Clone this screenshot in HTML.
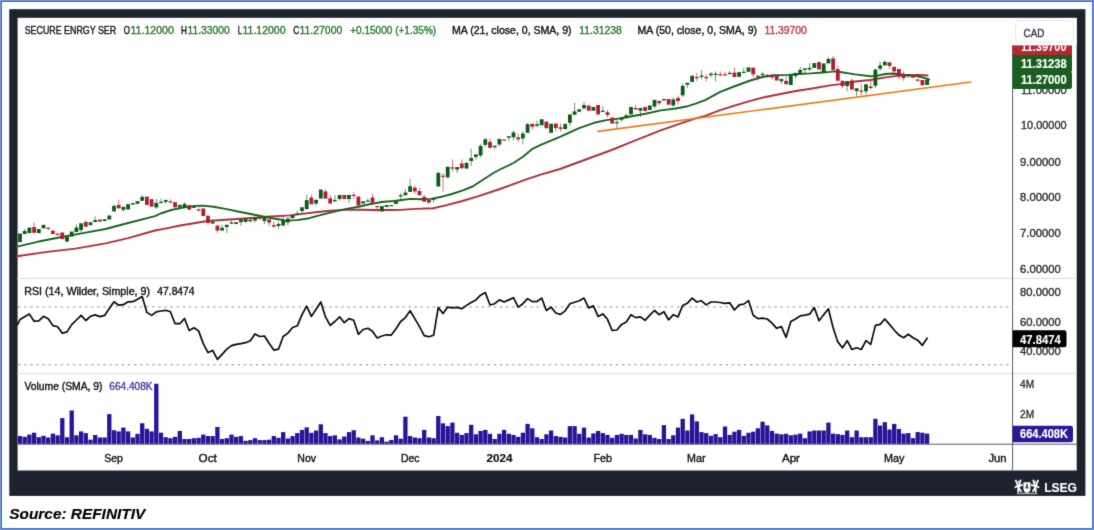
<!DOCTYPE html>
<html lang="en"><head><meta charset="utf-8"><title>SECURE ENRGY SER chart</title>
<style>html,body{margin:0;padding:0;background:#fff}svg{display:block}</style></head>
<body>
<svg width="1094" height="530" viewBox="0 0 1094 530" font-family="'Liberation Sans', sans-serif">
<defs><filter id="soft" x="0" y="0" width="1094" height="530" filterUnits="userSpaceOnUse" color-interpolation-filters="sRGB"><feConvolveMatrix order="3" kernelMatrix="0.011 0.084 0.011 0.084 0.62 0.084 0.011 0.084 0.011" divisor="1" edgeMode="duplicate" preserveAlpha="true"/></filter></defs>
<g filter="url(#soft)">
<rect x="0" y="0" width="1094" height="530" fill="#ffffff"/>
<rect x="1" y="1" width="1092" height="528" fill="none" stroke="#3f6ec3" stroke-width="2"/>
<rect x="0.5" y="0.5" width="1093" height="529" fill="none" stroke="#7296d8" stroke-width="1"/>
<rect x="9.3" y="9.2" width="1076.1" height="486.7" fill="#1e222d"/>
<rect x="17.6" y="17.8" width="1059.1" height="452.7" fill="#ffffff"/>
<g stroke="#dcdcde" stroke-width="1">
<line x1="17.2" y1="278.4" x2="1077" y2="278.4"/>
<line x1="17.2" y1="373.4" x2="1077" y2="373.4"/>
</g>
<g stroke="#a9a9a9" stroke-width="1.1" stroke-dasharray="2.4,3.7">
<line x1="18" y1="306.9" x2="1012" y2="306.9"/>
<line x1="18" y1="364.6" x2="1012" y2="364.6"/>
</g>
<g stroke="#585b64" stroke-width="1">
<line x1="1012.6" y1="45" x2="1012.6" y2="470.5"/>
<line x1="17.2" y1="444.2" x2="1077" y2="444.2"/>
</g>
<g fill="#2b1399">
<rect x="17.85" y="436.05" width="4.3" height="7.75"/>
<rect x="22.55" y="436.80" width="4.3" height="7.00"/>
<rect x="27.25" y="434.60" width="4.3" height="9.20"/>
<rect x="31.95" y="432.70" width="4.3" height="11.10"/>
<rect x="36.65" y="437.20" width="4.3" height="6.60"/>
<rect x="41.35" y="435.80" width="4.3" height="8.00"/>
<rect x="46.05" y="437.50" width="4.3" height="6.30"/>
<rect x="50.75" y="433.60" width="4.3" height="10.20"/>
<rect x="55.45" y="435.30" width="4.3" height="8.50"/>
<rect x="60.15" y="418.10" width="4.3" height="25.70"/>
<rect x="64.85" y="437.20" width="4.3" height="6.60"/>
<rect x="69.55" y="410.50" width="4.3" height="33.30"/>
<rect x="74.25" y="435.30" width="4.3" height="8.50"/>
<rect x="78.95" y="431.40" width="4.3" height="12.40"/>
<rect x="83.65" y="433.10" width="4.3" height="10.70"/>
<rect x="88.35" y="439.70" width="4.3" height="4.10"/>
<rect x="93.05" y="435.00" width="4.3" height="8.80"/>
<rect x="97.75" y="437.50" width="4.3" height="6.30"/>
<rect x="102.45" y="437.50" width="4.3" height="6.30"/>
<rect x="107.15" y="414.10" width="4.3" height="29.70"/>
<rect x="111.85" y="430.20" width="4.3" height="13.60"/>
<rect x="116.55" y="431.40" width="4.3" height="12.40"/>
<rect x="121.25" y="427.60" width="4.3" height="16.20"/>
<rect x="125.95" y="431.40" width="4.3" height="12.40"/>
<rect x="130.65" y="437.50" width="4.3" height="6.30"/>
<rect x="135.35" y="433.80" width="4.3" height="10.00"/>
<rect x="140.05" y="423.20" width="4.3" height="20.60"/>
<rect x="144.75" y="428.80" width="4.3" height="15.00"/>
<rect x="149.45" y="431.40" width="4.3" height="12.40"/>
<rect x="154.15" y="383.70" width="4.3" height="60.10"/>
<rect x="158.85" y="432.70" width="4.3" height="11.10"/>
<rect x="163.55" y="437.20" width="4.3" height="6.60"/>
<rect x="168.25" y="438.20" width="4.3" height="5.60"/>
<rect x="172.95" y="436.80" width="4.3" height="7.00"/>
<rect x="177.65" y="430.90" width="4.3" height="12.90"/>
<rect x="182.35" y="439.00" width="4.3" height="4.80"/>
<rect x="187.05" y="439.00" width="4.3" height="4.80"/>
<rect x="191.75" y="438.20" width="4.3" height="5.60"/>
<rect x="196.45" y="437.80" width="4.3" height="6.00"/>
<rect x="201.15" y="434.60" width="4.3" height="9.20"/>
<rect x="205.85" y="436.05" width="4.3" height="7.75"/>
<rect x="210.55" y="436.05" width="4.3" height="7.75"/>
<rect x="215.25" y="427.00" width="4.3" height="16.80"/>
<rect x="219.95" y="439.00" width="4.3" height="4.80"/>
<rect x="224.65" y="438.20" width="4.3" height="5.60"/>
<rect x="229.35" y="434.60" width="4.3" height="9.20"/>
<rect x="234.05" y="436.80" width="4.3" height="7.00"/>
<rect x="238.75" y="436.05" width="4.3" height="7.75"/>
<rect x="243.45" y="440.80" width="4.3" height="3.00"/>
<rect x="248.15" y="440.10" width="4.3" height="3.70"/>
<rect x="252.85" y="438.20" width="4.3" height="5.60"/>
<rect x="257.55" y="440.10" width="4.3" height="3.70"/>
<rect x="262.25" y="440.10" width="4.3" height="3.70"/>
<rect x="266.95" y="439.70" width="4.3" height="4.10"/>
<rect x="271.65" y="436.05" width="4.3" height="7.75"/>
<rect x="276.35" y="437.80" width="4.3" height="6.00"/>
<rect x="281.05" y="432.10" width="4.3" height="11.70"/>
<rect x="285.75" y="438.50" width="4.3" height="5.30"/>
<rect x="290.45" y="436.05" width="4.3" height="7.75"/>
<rect x="295.15" y="433.10" width="4.3" height="10.70"/>
<rect x="299.85" y="429.90" width="4.3" height="13.90"/>
<rect x="304.55" y="427.30" width="4.3" height="16.50"/>
<rect x="309.25" y="432.80" width="4.3" height="11.00"/>
<rect x="313.95" y="430.50" width="4.3" height="13.30"/>
<rect x="318.65" y="424.30" width="4.3" height="19.50"/>
<rect x="323.35" y="433.10" width="4.3" height="10.70"/>
<rect x="328.05" y="436.05" width="4.3" height="7.75"/>
<rect x="332.75" y="435.30" width="4.3" height="8.50"/>
<rect x="337.45" y="439.40" width="4.3" height="4.40"/>
<rect x="342.15" y="436.50" width="4.3" height="7.30"/>
<rect x="346.85" y="432.10" width="4.3" height="11.70"/>
<rect x="351.55" y="430.20" width="4.3" height="13.60"/>
<rect x="356.25" y="437.50" width="4.3" height="6.30"/>
<rect x="360.95" y="438.70" width="4.3" height="5.10"/>
<rect x="365.65" y="440.90" width="4.3" height="2.90"/>
<rect x="370.35" y="435.30" width="4.3" height="8.50"/>
<rect x="375.05" y="440.40" width="4.3" height="3.40"/>
<rect x="379.75" y="437.20" width="4.3" height="6.60"/>
<rect x="384.45" y="441.60" width="4.3" height="2.20"/>
<rect x="389.15" y="440.00" width="4.3" height="3.80"/>
<rect x="393.85" y="435.30" width="4.3" height="8.50"/>
<rect x="398.55" y="438.70" width="4.3" height="5.10"/>
<rect x="403.25" y="416.70" width="4.3" height="27.10"/>
<rect x="407.95" y="436.05" width="4.3" height="7.75"/>
<rect x="412.65" y="437.50" width="4.3" height="6.30"/>
<rect x="417.35" y="438.20" width="4.3" height="5.60"/>
<rect x="422.05" y="429.90" width="4.3" height="13.90"/>
<rect x="426.75" y="437.50" width="4.3" height="6.30"/>
<rect x="431.45" y="438.20" width="4.3" height="5.60"/>
<rect x="436.15" y="416.00" width="4.3" height="27.80"/>
<rect x="440.85" y="423.30" width="4.3" height="20.50"/>
<rect x="445.55" y="426.10" width="4.3" height="17.70"/>
<rect x="450.25" y="422.60" width="4.3" height="21.20"/>
<rect x="454.95" y="432.80" width="4.3" height="11.00"/>
<rect x="459.65" y="434.90" width="4.3" height="8.90"/>
<rect x="464.35" y="433.10" width="4.3" height="10.70"/>
<rect x="469.05" y="424.80" width="4.3" height="19.00"/>
<rect x="473.75" y="434.30" width="4.3" height="9.50"/>
<rect x="478.45" y="430.90" width="4.3" height="12.90"/>
<rect x="483.15" y="429.90" width="4.3" height="13.90"/>
<rect x="487.85" y="433.80" width="4.3" height="10.00"/>
<rect x="492.55" y="439.00" width="4.3" height="4.80"/>
<rect x="497.25" y="433.80" width="4.3" height="10.00"/>
<rect x="501.95" y="429.90" width="4.3" height="13.90"/>
<rect x="506.65" y="433.80" width="4.3" height="10.00"/>
<rect x="511.35" y="434.90" width="4.3" height="8.90"/>
<rect x="516.05" y="436.80" width="4.3" height="7.00"/>
<rect x="520.75" y="432.70" width="4.3" height="11.10"/>
<rect x="525.45" y="423.90" width="4.3" height="19.90"/>
<rect x="530.15" y="428.30" width="4.3" height="15.50"/>
<rect x="534.85" y="437.20" width="4.3" height="6.60"/>
<rect x="539.55" y="439.00" width="4.3" height="4.80"/>
<rect x="544.25" y="434.30" width="4.3" height="9.50"/>
<rect x="548.95" y="430.50" width="4.3" height="13.30"/>
<rect x="553.65" y="436.05" width="4.3" height="7.75"/>
<rect x="558.35" y="436.80" width="4.3" height="7.00"/>
<rect x="563.05" y="437.50" width="4.3" height="6.30"/>
<rect x="567.75" y="426.10" width="4.3" height="17.70"/>
<rect x="572.45" y="426.10" width="4.3" height="17.70"/>
<rect x="577.15" y="433.80" width="4.3" height="10.00"/>
<rect x="581.85" y="427.60" width="4.3" height="16.20"/>
<rect x="586.55" y="437.50" width="4.3" height="6.30"/>
<rect x="591.25" y="433.40" width="4.3" height="10.40"/>
<rect x="595.95" y="430.90" width="4.3" height="12.90"/>
<rect x="600.65" y="433.10" width="4.3" height="10.70"/>
<rect x="605.35" y="434.90" width="4.3" height="8.90"/>
<rect x="610.05" y="437.80" width="4.3" height="6.00"/>
<rect x="614.75" y="434.90" width="4.3" height="8.90"/>
<rect x="619.45" y="433.80" width="4.3" height="10.00"/>
<rect x="624.15" y="434.90" width="4.3" height="8.90"/>
<rect x="628.85" y="434.90" width="4.3" height="8.90"/>
<rect x="633.55" y="438.50" width="4.3" height="5.30"/>
<rect x="638.25" y="429.90" width="4.3" height="13.90"/>
<rect x="642.95" y="434.30" width="4.3" height="9.50"/>
<rect x="647.65" y="434.90" width="4.3" height="8.90"/>
<rect x="652.35" y="437.80" width="4.3" height="6.00"/>
<rect x="657.05" y="439.00" width="4.3" height="4.80"/>
<rect x="661.75" y="425.10" width="4.3" height="18.70"/>
<rect x="666.45" y="439.00" width="4.3" height="4.80"/>
<rect x="671.15" y="435.30" width="4.3" height="8.50"/>
<rect x="675.85" y="427.60" width="4.3" height="16.20"/>
<rect x="680.55" y="418.80" width="4.3" height="25.00"/>
<rect x="685.25" y="430.50" width="4.3" height="13.30"/>
<rect x="689.95" y="414.40" width="4.3" height="29.40"/>
<rect x="694.65" y="421.40" width="4.3" height="22.40"/>
<rect x="699.35" y="432.10" width="4.3" height="11.70"/>
<rect x="704.05" y="433.10" width="4.3" height="10.70"/>
<rect x="708.75" y="435.80" width="4.3" height="8.00"/>
<rect x="713.45" y="434.10" width="4.3" height="9.70"/>
<rect x="718.15" y="437.20" width="4.3" height="6.60"/>
<rect x="722.85" y="426.50" width="4.3" height="17.30"/>
<rect x="727.55" y="434.90" width="4.3" height="8.90"/>
<rect x="732.25" y="431.70" width="4.3" height="12.10"/>
<rect x="736.95" y="429.90" width="4.3" height="13.90"/>
<rect x="741.65" y="435.80" width="4.3" height="8.00"/>
<rect x="746.35" y="432.80" width="4.3" height="11.00"/>
<rect x="751.05" y="431.70" width="4.3" height="12.10"/>
<rect x="755.75" y="428.30" width="4.3" height="15.50"/>
<rect x="760.45" y="421.70" width="4.3" height="22.10"/>
<rect x="765.15" y="425.40" width="4.3" height="18.40"/>
<rect x="769.85" y="430.90" width="4.3" height="12.90"/>
<rect x="774.55" y="433.60" width="4.3" height="10.20"/>
<rect x="779.25" y="434.30" width="4.3" height="9.50"/>
<rect x="783.95" y="433.80" width="4.3" height="10.00"/>
<rect x="788.65" y="435.30" width="4.3" height="8.50"/>
<rect x="793.35" y="434.60" width="4.3" height="9.20"/>
<rect x="798.05" y="433.60" width="4.3" height="10.20"/>
<rect x="802.75" y="438.20" width="4.3" height="5.60"/>
<rect x="807.45" y="431.40" width="4.3" height="12.40"/>
<rect x="812.15" y="430.50" width="4.3" height="13.30"/>
<rect x="816.85" y="430.50" width="4.3" height="13.30"/>
<rect x="821.55" y="430.50" width="4.3" height="13.30"/>
<rect x="826.25" y="422.60" width="4.3" height="21.20"/>
<rect x="830.95" y="433.60" width="4.3" height="10.20"/>
<rect x="835.65" y="434.10" width="4.3" height="9.70"/>
<rect x="840.35" y="434.90" width="4.3" height="8.90"/>
<rect x="845.05" y="430.50" width="4.3" height="13.30"/>
<rect x="849.75" y="437.20" width="4.3" height="6.60"/>
<rect x="854.45" y="430.50" width="4.3" height="13.30"/>
<rect x="859.15" y="437.20" width="4.3" height="6.60"/>
<rect x="863.85" y="437.20" width="4.3" height="6.60"/>
<rect x="868.55" y="437.20" width="4.3" height="6.60"/>
<rect x="873.25" y="418.80" width="4.3" height="25.00"/>
<rect x="877.95" y="425.50" width="4.3" height="18.30"/>
<rect x="882.65" y="422.20" width="4.3" height="21.60"/>
<rect x="887.35" y="429.50" width="4.3" height="14.30"/>
<rect x="892.05" y="423.90" width="4.3" height="19.90"/>
<rect x="896.75" y="429.00" width="4.3" height="14.80"/>
<rect x="901.45" y="433.60" width="4.3" height="10.20"/>
<rect x="906.15" y="433.10" width="4.3" height="10.70"/>
<rect x="910.85" y="438.20" width="4.3" height="5.60"/>
<rect x="915.55" y="432.10" width="4.3" height="11.70"/>
<rect x="920.25" y="432.70" width="4.3" height="11.10"/>
<rect x="924.95" y="433.60" width="4.3" height="10.20"/>
</g>
<polyline points="17.0,256.3 45.2,252.1 75.3,248.6 105.5,243.4 128.1,238.1 155.0,230.5 165.1,228.6 180.2,225.5 195.3,223.0 207.3,221.0 225.4,219.8 240.5,218.7 255.6,217.7 270.7,216.5 290.0,215.4 300.1,214.1 315.2,212.2 330.3,210.8 345.3,209.9 360.4,209.7 375.5,210.0 390.6,210.0 400.0,209.9 415.6,208.9 433.2,208.2 446.7,205.1 462.2,201.0 477.8,196.3 500.0,189.0 510.5,185.2 525.6,179.6 540.7,174.6 560.0,169.0 611.6,150.0 630.4,142.4 645.5,136.4 660.6,130.3 675.7,125.1 695.0,118.6 705.1,115.9 720.2,110.2 735.3,105.3 750.3,100.8 765.4,97.0 780.5,94.0 795.6,91.0 810.7,88.7 830.0,85.4 840.1,84.1 855.2,81.5 870.3,80.0 885.4,77.4 897.5,75.9 909.5,75.2 918.6,75.0 927.6,75.5" fill="none" stroke="#b32c3a" stroke-width="1.9" stroke-linejoin="round" stroke-linecap="round"/>
<polyline points="17.0,246.7 37.6,241.8 60.3,237.3 82.9,233.1 105.5,229.0 128.1,223.0 155.0,216.2 160.6,213.5 171.1,210.0 184.7,207.4 195.3,205.9 202.8,205.6 213.4,206.7 225.4,208.9 240.5,212.0 255.6,215.0 270.7,218.0 282.8,220.0 285.0,220.6 297.1,220.1 309.1,218.2 321.2,214.9 333.3,211.8 345.3,209.1 357.4,207.0 369.5,204.3 381.5,202.0 393.6,201.0 400.0,200.2 410.4,198.9 420.7,199.2 431.1,198.9 441.5,196.8 451.9,194.0 462.2,190.6 472.6,186.5 483.0,179.7 493.4,173.0 500.0,169.5 513.5,163.0 522.6,157.0 531.6,149.4 540.7,144.9 549.7,141.1 560.0,136.9 567.1,133.7 579.1,128.1 594.2,122.8 606.3,120.1 618.4,118.6 630.4,116.5 645.5,113.7 660.6,110.4 675.7,108.5 687.8,106.2 695.0,103.9 705.1,100.1 720.2,91.8 735.3,86.0 750.3,80.5 762.4,77.0 774.5,75.2 788.1,74.9 798.6,74.0 810.7,73.4 822.8,72.5 830.0,71.9 834.1,71.4 840.1,72.0 855.2,74.4 870.3,76.2 876.3,75.9 885.4,74.0 892.9,73.5 903.5,74.7 915.6,75.9 923.1,77.7 929.2,79.5" fill="none" stroke="#19641f" stroke-width="1.9" stroke-linejoin="round" stroke-linecap="round"/>
<line x1="598" y1="131.4" x2="970.7" y2="82" stroke="#f07a14" stroke-width="1.7" stroke-linecap="round"/>
<rect x="18.10" y="233.55" width="3.8" height="8.60" fill="#0e5c18"/>
<line x1="24.70" y1="229.03" x2="24.70" y2="234.01" stroke="#0e5c18" stroke-width="0.8" stroke-opacity="0.8"/>
<rect x="22.80" y="230.99" width="3.8" height="3.02" fill="#0e5c18"/>
<rect x="27.50" y="227.52" width="3.8" height="5.58" fill="#0e5c18"/>
<line x1="34.10" y1="222.24" x2="34.10" y2="232.80" stroke="#b01f30" stroke-width="0.8" stroke-opacity="0.8"/>
<rect x="32.20" y="227.07" width="3.8" height="5.73" fill="#b01f30"/>
<rect x="36.90" y="229.03" width="3.8" height="4.07" fill="#0e5c18"/>
<line x1="43.50" y1="224.50" x2="43.50" y2="228.57" stroke="#0e5c18" stroke-width="0.8" stroke-opacity="0.8"/>
<rect x="41.60" y="224.95" width="3.8" height="3.32" fill="#0e5c18"/>
<line x1="48.20" y1="227.67" x2="48.20" y2="230.54" stroke="#b01f30" stroke-width="0.8" stroke-opacity="0.8"/>
<rect x="46.30" y="227.67" width="3.8" height="1.21" fill="#b01f30"/>
<rect x="51.00" y="230.54" width="3.8" height="3.47" fill="#b01f30"/>
<line x1="57.60" y1="232.50" x2="57.60" y2="235.06" stroke="#b01f30" stroke-width="0.8" stroke-opacity="0.8"/>
<rect x="55.70" y="233.86" width="3.8" height="1.20" fill="#b01f30"/>
<rect x="60.40" y="232.50" width="3.8" height="6.64" fill="#b01f30"/>
<line x1="67.00" y1="237.02" x2="67.00" y2="242.15" stroke="#0e5c18" stroke-width="0.8" stroke-opacity="0.8"/>
<rect x="65.10" y="237.02" width="3.8" height="4.53" fill="#0e5c18"/>
<rect x="69.80" y="231.59" width="3.8" height="4.98" fill="#0e5c18"/>
<line x1="76.40" y1="224.50" x2="76.40" y2="232.04" stroke="#0e5c18" stroke-width="0.8" stroke-opacity="0.8"/>
<rect x="74.50" y="227.52" width="3.8" height="4.53" fill="#0e5c18"/>
<line x1="81.10" y1="223.29" x2="81.10" y2="232.04" stroke="#0e5c18" stroke-width="0.8" stroke-opacity="0.8"/>
<rect x="79.20" y="223.29" width="3.8" height="6.79" fill="#0e5c18"/>
<line x1="85.80" y1="220.43" x2="85.80" y2="226.76" stroke="#b01f30" stroke-width="0.8" stroke-opacity="0.8"/>
<rect x="83.90" y="221.94" width="3.8" height="4.83" fill="#b01f30"/>
<rect x="88.60" y="222.24" width="3.8" height="3.02" fill="#0e5c18"/>
<line x1="95.20" y1="216.51" x2="95.20" y2="222.54" stroke="#0e5c18" stroke-width="0.8" stroke-opacity="0.8"/>
<rect x="93.30" y="219.98" width="3.8" height="1.96" fill="#0e5c18"/>
<rect x="98.00" y="219.52" width="3.8" height="2.11" fill="#b01f30"/>
<rect x="102.70" y="219.22" width="3.8" height="1.81" fill="#0e5c18"/>
<rect x="107.40" y="215.45" width="3.8" height="4.07" fill="#0e5c18"/>
<line x1="114.00" y1="204.14" x2="114.00" y2="211.38" stroke="#0e5c18" stroke-width="0.8" stroke-opacity="0.8"/>
<rect x="112.10" y="205.95" width="3.8" height="5.43" fill="#0e5c18"/>
<line x1="118.70" y1="199.61" x2="118.70" y2="208.36" stroke="#b01f30" stroke-width="0.8" stroke-opacity="0.8"/>
<rect x="116.80" y="204.89" width="3.8" height="3.47" fill="#b01f30"/>
<line x1="123.40" y1="206.85" x2="123.40" y2="211.68" stroke="#0e5c18" stroke-width="0.8" stroke-opacity="0.8"/>
<rect x="121.50" y="206.85" width="3.8" height="3.02" fill="#0e5c18"/>
<rect x="126.20" y="204.14" width="3.8" height="5.28" fill="#0e5c18"/>
<rect x="130.90" y="203.08" width="3.8" height="1.51" fill="#0e5c18"/>
<rect x="135.60" y="201.12" width="3.8" height="2.72" fill="#0e5c18"/>
<line x1="142.20" y1="195.09" x2="142.20" y2="200.82" stroke="#0e5c18" stroke-width="0.8" stroke-opacity="0.8"/>
<rect x="140.30" y="196.90" width="3.8" height="3.92" fill="#0e5c18"/>
<rect x="145.00" y="196.59" width="3.8" height="8.30" fill="#b01f30"/>
<rect x="149.70" y="199.14" width="3.8" height="7.54" fill="#b01f30"/>
<line x1="156.30" y1="199.14" x2="156.30" y2="208.94" stroke="#0e5c18" stroke-width="0.8" stroke-opacity="0.8"/>
<rect x="154.40" y="202.91" width="3.8" height="4.53" fill="#0e5c18"/>
<line x1="161.00" y1="198.38" x2="161.00" y2="203.66" stroke="#0e5c18" stroke-width="0.8" stroke-opacity="0.8"/>
<rect x="159.10" y="201.78" width="3.8" height="1.20" fill="#0e5c18"/>
<line x1="165.70" y1="199.89" x2="165.70" y2="203.96" stroke="#0e5c18" stroke-width="0.8" stroke-opacity="0.8"/>
<rect x="163.80" y="199.89" width="3.8" height="1.96" fill="#0e5c18"/>
<line x1="170.40" y1="199.44" x2="170.40" y2="202.53" stroke="#b01f30" stroke-width="0.8" stroke-opacity="0.8"/>
<rect x="168.50" y="201.33" width="3.8" height="1.20" fill="#b01f30"/>
<rect x="173.20" y="202.15" width="3.8" height="5.28" fill="#b01f30"/>
<rect x="177.90" y="204.87" width="3.8" height="2.56" fill="#0e5c18"/>
<line x1="184.50" y1="202.15" x2="184.50" y2="207.43" stroke="#0e5c18" stroke-width="0.8" stroke-opacity="0.8"/>
<rect x="182.60" y="203.96" width="3.8" height="3.47" fill="#0e5c18"/>
<rect x="187.30" y="205.17" width="3.8" height="4.53" fill="#b01f30"/>
<rect x="192.00" y="206.38" width="3.8" height="1.51" fill="#0e5c18"/>
<line x1="198.60" y1="207.43" x2="198.60" y2="210.75" stroke="#b01f30" stroke-width="0.8" stroke-opacity="0.8"/>
<rect x="196.70" y="209.55" width="3.8" height="1.20" fill="#b01f30"/>
<rect x="201.40" y="208.49" width="3.8" height="7.54" fill="#b01f30"/>
<line x1="208.00" y1="215.73" x2="208.00" y2="224.78" stroke="#b01f30" stroke-width="0.8" stroke-opacity="0.8"/>
<rect x="206.10" y="215.73" width="3.8" height="7.24" fill="#b01f30"/>
<line x1="212.70" y1="219.50" x2="212.70" y2="223.57" stroke="#0e5c18" stroke-width="0.8" stroke-opacity="0.8"/>
<rect x="210.80" y="221.76" width="3.8" height="1.81" fill="#0e5c18"/>
<line x1="217.40" y1="225.54" x2="217.40" y2="232.63" stroke="#b01f30" stroke-width="0.8" stroke-opacity="0.8"/>
<rect x="215.50" y="225.54" width="3.8" height="4.98" fill="#b01f30"/>
<line x1="222.10" y1="224.78" x2="222.10" y2="230.51" stroke="#0e5c18" stroke-width="0.8" stroke-opacity="0.8"/>
<rect x="220.20" y="227.80" width="3.8" height="2.72" fill="#0e5c18"/>
<line x1="226.80" y1="224.78" x2="226.80" y2="233.08" stroke="#0e5c18" stroke-width="0.8" stroke-opacity="0.8"/>
<rect x="224.90" y="224.78" width="3.8" height="2.26" fill="#0e5c18"/>
<line x1="231.50" y1="220.26" x2="231.50" y2="223.73" stroke="#0e5c18" stroke-width="0.8" stroke-opacity="0.8"/>
<rect x="229.60" y="222.52" width="3.8" height="1.21" fill="#0e5c18"/>
<rect x="234.30" y="222.22" width="3.8" height="1.81" fill="#0e5c18"/>
<line x1="240.90" y1="219.50" x2="240.90" y2="225.54" stroke="#0e5c18" stroke-width="0.8" stroke-opacity="0.8"/>
<rect x="239.00" y="219.50" width="3.8" height="2.56" fill="#0e5c18"/>
<rect x="243.70" y="218.75" width="3.8" height="3.32" fill="#0e5c18"/>
<line x1="250.30" y1="217.99" x2="250.30" y2="222.07" stroke="#0e5c18" stroke-width="0.8" stroke-opacity="0.8"/>
<rect x="248.40" y="219.80" width="3.8" height="1.51" fill="#0e5c18"/>
<line x1="255.00" y1="217.24" x2="255.00" y2="222.52" stroke="#0e5c18" stroke-width="0.8" stroke-opacity="0.8"/>
<rect x="253.10" y="217.24" width="3.8" height="3.32" fill="#0e5c18"/>
<line x1="259.70" y1="216.94" x2="259.70" y2="219.50" stroke="#b01f30" stroke-width="0.8" stroke-opacity="0.8"/>
<rect x="257.80" y="216.94" width="3.8" height="1.81" fill="#b01f30"/>
<line x1="264.40" y1="216.48" x2="264.40" y2="224.03" stroke="#0e5c18" stroke-width="0.8" stroke-opacity="0.8"/>
<rect x="262.50" y="217.99" width="3.8" height="3.02" fill="#0e5c18"/>
<line x1="269.10" y1="219.50" x2="269.10" y2="226.29" stroke="#b01f30" stroke-width="0.8" stroke-opacity="0.8"/>
<rect x="267.20" y="219.50" width="3.8" height="3.02" fill="#b01f30"/>
<line x1="273.80" y1="221.76" x2="273.80" y2="227.80" stroke="#b01f30" stroke-width="0.8" stroke-opacity="0.8"/>
<rect x="271.90" y="225.08" width="3.8" height="1.51" fill="#b01f30"/>
<line x1="278.50" y1="221.76" x2="278.50" y2="228.55" stroke="#0e5c18" stroke-width="0.8" stroke-opacity="0.8"/>
<rect x="276.60" y="224.03" width="3.8" height="1.96" fill="#0e5c18"/>
<line x1="283.20" y1="215.73" x2="283.20" y2="225.54" stroke="#0e5c18" stroke-width="0.8" stroke-opacity="0.8"/>
<rect x="281.30" y="220.26" width="3.8" height="5.28" fill="#0e5c18"/>
<line x1="287.90" y1="217.13" x2="287.90" y2="225.43" stroke="#0e5c18" stroke-width="0.8" stroke-opacity="0.8"/>
<rect x="286.00" y="218.64" width="3.8" height="3.77" fill="#0e5c18"/>
<rect x="290.70" y="215.17" width="3.8" height="3.02" fill="#0e5c18"/>
<line x1="297.30" y1="210.34" x2="297.30" y2="214.87" stroke="#0e5c18" stroke-width="0.8" stroke-opacity="0.8"/>
<rect x="295.40" y="213.36" width="3.8" height="1.51" fill="#0e5c18"/>
<line x1="302.00" y1="207.32" x2="302.00" y2="213.36" stroke="#0e5c18" stroke-width="0.8" stroke-opacity="0.8"/>
<rect x="300.10" y="207.32" width="3.8" height="3.77" fill="#0e5c18"/>
<line x1="306.70" y1="194.95" x2="306.70" y2="209.13" stroke="#0e5c18" stroke-width="0.8" stroke-opacity="0.8"/>
<rect x="304.80" y="200.08" width="3.8" height="9.05" fill="#0e5c18"/>
<line x1="311.40" y1="194.50" x2="311.40" y2="204.31" stroke="#b01f30" stroke-width="0.8" stroke-opacity="0.8"/>
<rect x="309.50" y="197.52" width="3.8" height="6.79" fill="#b01f30"/>
<line x1="316.10" y1="199.78" x2="316.10" y2="205.82" stroke="#0e5c18" stroke-width="0.8" stroke-opacity="0.8"/>
<rect x="314.20" y="199.78" width="3.8" height="3.77" fill="#0e5c18"/>
<rect x="318.90" y="189.52" width="3.8" height="9.05" fill="#0e5c18"/>
<line x1="325.50" y1="189.52" x2="325.50" y2="198.57" stroke="#b01f30" stroke-width="0.8" stroke-opacity="0.8"/>
<rect x="323.60" y="191.48" width="3.8" height="7.09" fill="#b01f30"/>
<line x1="330.20" y1="194.95" x2="330.20" y2="203.55" stroke="#b01f30" stroke-width="0.8" stroke-opacity="0.8"/>
<rect x="328.30" y="198.27" width="3.8" height="5.28" fill="#b01f30"/>
<line x1="334.90" y1="194.95" x2="334.90" y2="202.04" stroke="#0e5c18" stroke-width="0.8" stroke-opacity="0.8"/>
<rect x="333.00" y="199.94" width="3.8" height="1.20" fill="#0e5c18"/>
<line x1="339.60" y1="194.95" x2="339.60" y2="200.54" stroke="#0e5c18" stroke-width="0.8" stroke-opacity="0.8"/>
<rect x="337.70" y="194.95" width="3.8" height="4.07" fill="#0e5c18"/>
<rect x="342.40" y="194.95" width="3.8" height="4.07" fill="#b01f30"/>
<line x1="349.00" y1="194.95" x2="349.00" y2="203.10" stroke="#0e5c18" stroke-width="0.8" stroke-opacity="0.8"/>
<rect x="347.10" y="194.95" width="3.8" height="4.07" fill="#0e5c18"/>
<line x1="353.70" y1="192.24" x2="353.70" y2="199.03" stroke="#b01f30" stroke-width="0.8" stroke-opacity="0.8"/>
<rect x="351.80" y="194.80" width="3.8" height="1.21" fill="#b01f30"/>
<rect x="356.50" y="196.46" width="3.8" height="9.05" fill="#b01f30"/>
<rect x="361.20" y="201.29" width="3.8" height="2.26" fill="#0e5c18"/>
<line x1="367.80" y1="198.57" x2="367.80" y2="201.74" stroke="#0e5c18" stroke-width="0.8" stroke-opacity="0.8"/>
<rect x="365.90" y="200.54" width="3.8" height="1.21" fill="#0e5c18"/>
<line x1="372.50" y1="193.75" x2="372.50" y2="202.80" stroke="#b01f30" stroke-width="0.8" stroke-opacity="0.8"/>
<rect x="370.60" y="197.52" width="3.8" height="5.28" fill="#b01f30"/>
<line x1="377.20" y1="205.97" x2="377.20" y2="211.55" stroke="#b01f30" stroke-width="0.8" stroke-opacity="0.8"/>
<rect x="375.30" y="205.97" width="3.8" height="1.20" fill="#b01f30"/>
<rect x="380.00" y="206.12" width="3.8" height="5.43" fill="#0e5c18"/>
<rect x="384.70" y="205.06" width="3.8" height="1.96" fill="#0e5c18"/>
<rect x="389.40" y="205.06" width="3.8" height="1.21" fill="#0e5c18"/>
<rect x="394.10" y="201.29" width="3.8" height="2.72" fill="#0e5c18"/>
<line x1="400.70" y1="192.99" x2="400.70" y2="199.78" stroke="#0e5c18" stroke-width="0.8" stroke-opacity="0.8"/>
<rect x="398.80" y="195.11" width="3.8" height="1.20" fill="#0e5c18"/>
<line x1="405.40" y1="188.92" x2="405.40" y2="195.26" stroke="#0e5c18" stroke-width="0.8" stroke-opacity="0.8"/>
<rect x="403.50" y="192.54" width="3.8" height="2.72" fill="#0e5c18"/>
<line x1="410.10" y1="178.96" x2="410.10" y2="191.94" stroke="#0e5c18" stroke-width="0.8" stroke-opacity="0.8"/>
<rect x="408.20" y="186.20" width="3.8" height="5.73" fill="#0e5c18"/>
<line x1="414.80" y1="185.45" x2="414.80" y2="193.75" stroke="#b01f30" stroke-width="0.8" stroke-opacity="0.8"/>
<rect x="412.90" y="187.71" width="3.8" height="3.77" fill="#b01f30"/>
<line x1="419.50" y1="187.71" x2="419.50" y2="195.26" stroke="#b01f30" stroke-width="0.8" stroke-opacity="0.8"/>
<rect x="417.60" y="191.03" width="3.8" height="4.22" fill="#b01f30"/>
<line x1="424.20" y1="194.75" x2="424.20" y2="201.70" stroke="#b01f30" stroke-width="0.8" stroke-opacity="0.8"/>
<rect x="422.30" y="196.83" width="3.8" height="4.88" fill="#b01f30"/>
<line x1="428.90" y1="199.94" x2="428.90" y2="204.09" stroke="#b01f30" stroke-width="0.8" stroke-opacity="0.8"/>
<rect x="427.00" y="199.94" width="3.8" height="2.59" fill="#b01f30"/>
<line x1="433.60" y1="197.86" x2="433.60" y2="202.53" stroke="#0e5c18" stroke-width="0.8" stroke-opacity="0.8"/>
<rect x="431.70" y="198.66" width="3.8" height="1.20" fill="#0e5c18"/>
<line x1="438.30" y1="171.41" x2="438.30" y2="186.45" stroke="#0e5c18" stroke-width="0.8" stroke-opacity="0.8"/>
<rect x="436.40" y="172.97" width="3.8" height="13.49" fill="#0e5c18"/>
<line x1="443.00" y1="172.97" x2="443.00" y2="191.64" stroke="#b01f30" stroke-width="0.8" stroke-opacity="0.8"/>
<rect x="441.10" y="175.69" width="3.8" height="1.20" fill="#b01f30"/>
<line x1="447.70" y1="166.76" x2="447.70" y2="178.53" stroke="#0e5c18" stroke-width="0.8" stroke-opacity="0.8"/>
<rect x="445.80" y="166.76" width="3.8" height="10.56" fill="#0e5c18"/>
<line x1="452.40" y1="159.52" x2="452.40" y2="171.29" stroke="#b01f30" stroke-width="0.8" stroke-opacity="0.8"/>
<rect x="450.50" y="167.22" width="3.8" height="1.36" fill="#b01f30"/>
<line x1="457.10" y1="167.07" x2="457.10" y2="173.10" stroke="#0e5c18" stroke-width="0.8" stroke-opacity="0.8"/>
<rect x="455.20" y="167.07" width="3.8" height="2.41" fill="#0e5c18"/>
<line x1="461.80" y1="159.52" x2="461.80" y2="168.27" stroke="#b01f30" stroke-width="0.8" stroke-opacity="0.8"/>
<rect x="459.90" y="163.45" width="3.8" height="4.83" fill="#b01f30"/>
<line x1="466.50" y1="161.94" x2="466.50" y2="168.57" stroke="#0e5c18" stroke-width="0.8" stroke-opacity="0.8"/>
<rect x="464.60" y="162.99" width="3.8" height="5.58" fill="#0e5c18"/>
<line x1="471.20" y1="148.66" x2="471.20" y2="166.01" stroke="#0e5c18" stroke-width="0.8" stroke-opacity="0.8"/>
<rect x="469.30" y="158.01" width="3.8" height="3.02" fill="#0e5c18"/>
<line x1="475.90" y1="154.39" x2="475.90" y2="159.52" stroke="#0e5c18" stroke-width="0.8" stroke-opacity="0.8"/>
<rect x="474.00" y="154.39" width="3.8" height="2.56" fill="#0e5c18"/>
<line x1="480.60" y1="143.83" x2="480.60" y2="157.41" stroke="#0e5c18" stroke-width="0.8" stroke-opacity="0.8"/>
<rect x="478.70" y="145.95" width="3.8" height="9.50" fill="#0e5c18"/>
<line x1="485.30" y1="137.35" x2="485.30" y2="146.85" stroke="#0e5c18" stroke-width="0.8" stroke-opacity="0.8"/>
<rect x="483.40" y="139.31" width="3.8" height="5.58" fill="#0e5c18"/>
<line x1="490.00" y1="138.40" x2="490.00" y2="147.91" stroke="#b01f30" stroke-width="0.8" stroke-opacity="0.8"/>
<rect x="488.10" y="141.87" width="3.8" height="6.03" fill="#b01f30"/>
<line x1="494.70" y1="145.64" x2="494.70" y2="149.42" stroke="#0e5c18" stroke-width="0.8" stroke-opacity="0.8"/>
<rect x="492.80" y="145.64" width="3.8" height="1.51" fill="#0e5c18"/>
<line x1="499.40" y1="138.86" x2="499.40" y2="146.40" stroke="#0e5c18" stroke-width="0.8" stroke-opacity="0.8"/>
<rect x="497.50" y="138.86" width="3.8" height="5.58" fill="#0e5c18"/>
<rect x="502.20" y="139.46" width="3.8" height="1.20" fill="#b01f30"/>
<line x1="508.80" y1="136.29" x2="508.80" y2="141.12" stroke="#0e5c18" stroke-width="0.8" stroke-opacity="0.8"/>
<rect x="506.90" y="136.29" width="3.8" height="1.51" fill="#0e5c18"/>
<line x1="513.50" y1="130.56" x2="513.50" y2="140.37" stroke="#0e5c18" stroke-width="0.8" stroke-opacity="0.8"/>
<rect x="511.60" y="132.37" width="3.8" height="4.98" fill="#0e5c18"/>
<line x1="518.20" y1="133.58" x2="518.20" y2="141.87" stroke="#b01f30" stroke-width="0.8" stroke-opacity="0.8"/>
<rect x="516.30" y="137.35" width="3.8" height="1.96" fill="#b01f30"/>
<line x1="522.90" y1="131.31" x2="522.90" y2="143.83" stroke="#0e5c18" stroke-width="0.8" stroke-opacity="0.8"/>
<rect x="521.00" y="133.58" width="3.8" height="4.83" fill="#0e5c18"/>
<line x1="527.60" y1="122.72" x2="527.60" y2="132.82" stroke="#0e5c18" stroke-width="0.8" stroke-opacity="0.8"/>
<rect x="525.70" y="124.22" width="3.8" height="8.60" fill="#0e5c18"/>
<line x1="532.30" y1="123.77" x2="532.30" y2="129.81" stroke="#b01f30" stroke-width="0.8" stroke-opacity="0.8"/>
<rect x="530.40" y="123.77" width="3.8" height="3.02" fill="#b01f30"/>
<line x1="537.00" y1="120.75" x2="537.00" y2="127.24" stroke="#0e5c18" stroke-width="0.8" stroke-opacity="0.8"/>
<rect x="535.10" y="124.22" width="3.8" height="1.51" fill="#0e5c18"/>
<rect x="539.80" y="119.25" width="3.8" height="6.03" fill="#0e5c18"/>
<rect x="544.50" y="121.51" width="3.8" height="6.79" fill="#b01f30"/>
<rect x="549.20" y="123.77" width="3.8" height="9.05" fill="#0e5c18"/>
<line x1="555.80" y1="123.55" x2="555.80" y2="131.85" stroke="#b01f30" stroke-width="0.8" stroke-opacity="0.8"/>
<rect x="553.90" y="123.55" width="3.8" height="4.53" fill="#b01f30"/>
<line x1="560.50" y1="123.55" x2="560.50" y2="131.55" stroke="#b01f30" stroke-width="0.8" stroke-opacity="0.8"/>
<rect x="558.60" y="127.32" width="3.8" height="1.51" fill="#b01f30"/>
<line x1="565.20" y1="122.80" x2="565.20" y2="129.13" stroke="#0e5c18" stroke-width="0.8" stroke-opacity="0.8"/>
<rect x="563.30" y="124.01" width="3.8" height="5.13" fill="#0e5c18"/>
<line x1="569.90" y1="114.50" x2="569.90" y2="125.82" stroke="#0e5c18" stroke-width="0.8" stroke-opacity="0.8"/>
<rect x="568.00" y="114.50" width="3.8" height="8.30" fill="#0e5c18"/>
<line x1="574.60" y1="102.89" x2="574.60" y2="114.80" stroke="#0e5c18" stroke-width="0.8" stroke-opacity="0.8"/>
<rect x="572.70" y="111.48" width="3.8" height="3.32" fill="#0e5c18"/>
<rect x="577.40" y="109.22" width="3.8" height="2.56" fill="#0e5c18"/>
<line x1="584.00" y1="101.98" x2="584.00" y2="108.47" stroke="#0e5c18" stroke-width="0.8" stroke-opacity="0.8"/>
<rect x="582.10" y="105.00" width="3.8" height="3.47" fill="#0e5c18"/>
<line x1="588.70" y1="104.39" x2="588.70" y2="110.73" stroke="#b01f30" stroke-width="0.8" stroke-opacity="0.8"/>
<rect x="586.80" y="105.75" width="3.8" height="4.98" fill="#b01f30"/>
<rect x="591.50" y="106.96" width="3.8" height="3.77" fill="#0e5c18"/>
<rect x="596.20" y="105.00" width="3.8" height="9.50" fill="#b01f30"/>
<line x1="602.80" y1="106.20" x2="602.80" y2="111.94" stroke="#0e5c18" stroke-width="0.8" stroke-opacity="0.8"/>
<rect x="600.90" y="110.73" width="3.8" height="1.21" fill="#0e5c18"/>
<line x1="607.50" y1="109.98" x2="607.50" y2="117.52" stroke="#b01f30" stroke-width="0.8" stroke-opacity="0.8"/>
<rect x="605.60" y="112.24" width="3.8" height="2.72" fill="#b01f30"/>
<rect x="610.30" y="117.52" width="3.8" height="6.03" fill="#b01f30"/>
<line x1="616.90" y1="119.78" x2="616.90" y2="128.08" stroke="#0e5c18" stroke-width="0.8" stroke-opacity="0.8"/>
<rect x="615.00" y="121.97" width="3.8" height="1.20" fill="#0e5c18"/>
<line x1="621.60" y1="117.52" x2="621.60" y2="122.04" stroke="#0e5c18" stroke-width="0.8" stroke-opacity="0.8"/>
<rect x="619.70" y="117.52" width="3.8" height="2.26" fill="#0e5c18"/>
<line x1="626.30" y1="113.75" x2="626.30" y2="118.27" stroke="#0e5c18" stroke-width="0.8" stroke-opacity="0.8"/>
<rect x="624.40" y="115.26" width="3.8" height="3.02" fill="#0e5c18"/>
<rect x="629.10" y="106.96" width="3.8" height="7.54" fill="#0e5c18"/>
<line x1="635.70" y1="105.00" x2="635.70" y2="109.52" stroke="#b01f30" stroke-width="0.8" stroke-opacity="0.8"/>
<rect x="633.80" y="108.01" width="3.8" height="1.51" fill="#b01f30"/>
<line x1="640.40" y1="108.01" x2="640.40" y2="117.07" stroke="#0e5c18" stroke-width="0.8" stroke-opacity="0.8"/>
<rect x="638.50" y="108.01" width="3.8" height="2.72" fill="#0e5c18"/>
<rect x="643.20" y="106.96" width="3.8" height="4.07" fill="#b01f30"/>
<rect x="647.90" y="105.45" width="3.8" height="4.53" fill="#0e5c18"/>
<line x1="654.50" y1="99.87" x2="654.50" y2="108.47" stroke="#0e5c18" stroke-width="0.8" stroke-opacity="0.8"/>
<rect x="652.60" y="99.87" width="3.8" height="6.64" fill="#0e5c18"/>
<line x1="659.20" y1="100.92" x2="659.20" y2="105.45" stroke="#b01f30" stroke-width="0.8" stroke-opacity="0.8"/>
<rect x="657.30" y="100.92" width="3.8" height="2.26" fill="#b01f30"/>
<rect x="662.00" y="98.96" width="3.8" height="1.51" fill="#0e5c18"/>
<rect x="666.70" y="98.96" width="3.8" height="5.73" fill="#b01f30"/>
<line x1="673.30" y1="97.46" x2="673.30" y2="106.51" stroke="#0e5c18" stroke-width="0.8" stroke-opacity="0.8"/>
<rect x="671.40" y="99.42" width="3.8" height="6.03" fill="#0e5c18"/>
<line x1="678.00" y1="95.64" x2="678.00" y2="104.70" stroke="#b01f30" stroke-width="0.8" stroke-opacity="0.8"/>
<rect x="676.10" y="97.91" width="3.8" height="3.02" fill="#b01f30"/>
<line x1="682.70" y1="83.28" x2="682.70" y2="96.85" stroke="#0e5c18" stroke-width="0.8" stroke-opacity="0.8"/>
<rect x="680.80" y="85.84" width="3.8" height="9.50" fill="#0e5c18"/>
<line x1="687.40" y1="82.82" x2="687.40" y2="87.80" stroke="#0e5c18" stroke-width="0.8" stroke-opacity="0.8"/>
<rect x="685.50" y="82.82" width="3.8" height="1.96" fill="#0e5c18"/>
<rect x="690.20" y="75.62" width="3.8" height="6.34" fill="#0e5c18"/>
<line x1="696.80" y1="72.91" x2="696.80" y2="81.20" stroke="#b01f30" stroke-width="0.8" stroke-opacity="0.8"/>
<rect x="694.90" y="76.98" width="3.8" height="1.21" fill="#b01f30"/>
<line x1="701.50" y1="69.89" x2="701.50" y2="78.94" stroke="#0e5c18" stroke-width="0.8" stroke-opacity="0.8"/>
<rect x="699.60" y="75.62" width="3.8" height="1.36" fill="#0e5c18"/>
<line x1="706.20" y1="74.42" x2="706.20" y2="81.51" stroke="#b01f30" stroke-width="0.8" stroke-opacity="0.8"/>
<rect x="704.30" y="76.98" width="3.8" height="1.21" fill="#b01f30"/>
<line x1="710.90" y1="72.15" x2="710.90" y2="77.43" stroke="#0e5c18" stroke-width="0.8" stroke-opacity="0.8"/>
<rect x="709.00" y="73.66" width="3.8" height="1.51" fill="#0e5c18"/>
<line x1="715.60" y1="71.40" x2="715.60" y2="81.20" stroke="#0e5c18" stroke-width="0.8" stroke-opacity="0.8"/>
<rect x="713.70" y="73.66" width="3.8" height="1.21" fill="#0e5c18"/>
<line x1="720.30" y1="71.40" x2="720.30" y2="75.54" stroke="#b01f30" stroke-width="0.8" stroke-opacity="0.8"/>
<rect x="718.40" y="74.34" width="3.8" height="1.20" fill="#b01f30"/>
<line x1="725.00" y1="71.85" x2="725.00" y2="75.54" stroke="#b01f30" stroke-width="0.8" stroke-opacity="0.8"/>
<rect x="723.10" y="74.34" width="3.8" height="1.20" fill="#b01f30"/>
<line x1="729.70" y1="70.95" x2="729.70" y2="74.87" stroke="#0e5c18" stroke-width="0.8" stroke-opacity="0.8"/>
<rect x="727.80" y="72.84" width="3.8" height="1.20" fill="#0e5c18"/>
<line x1="734.40" y1="67.63" x2="734.40" y2="76.98" stroke="#b01f30" stroke-width="0.8" stroke-opacity="0.8"/>
<rect x="732.50" y="72.61" width="3.8" height="4.37" fill="#b01f30"/>
<line x1="739.10" y1="72.15" x2="739.10" y2="77.43" stroke="#0e5c18" stroke-width="0.8" stroke-opacity="0.8"/>
<rect x="737.20" y="72.15" width="3.8" height="4.53" fill="#0e5c18"/>
<line x1="743.80" y1="67.63" x2="743.80" y2="72.98" stroke="#0e5c18" stroke-width="0.8" stroke-opacity="0.8"/>
<rect x="741.90" y="71.78" width="3.8" height="1.20" fill="#0e5c18"/>
<rect x="746.60" y="67.33" width="3.8" height="4.53" fill="#0e5c18"/>
<line x1="753.20" y1="67.63" x2="753.20" y2="76.98" stroke="#b01f30" stroke-width="0.8" stroke-opacity="0.8"/>
<rect x="751.30" y="67.63" width="3.8" height="6.79" fill="#b01f30"/>
<line x1="757.90" y1="75.62" x2="757.90" y2="80.45" stroke="#b01f30" stroke-width="0.8" stroke-opacity="0.8"/>
<rect x="756.00" y="75.62" width="3.8" height="1.51" fill="#b01f30"/>
<line x1="762.60" y1="71.85" x2="762.60" y2="78.19" stroke="#0e5c18" stroke-width="0.8" stroke-opacity="0.8"/>
<rect x="760.70" y="73.96" width="3.8" height="1.21" fill="#0e5c18"/>
<line x1="767.30" y1="73.66" x2="767.30" y2="77.43" stroke="#b01f30" stroke-width="0.8" stroke-opacity="0.8"/>
<rect x="765.40" y="74.87" width="3.8" height="1.51" fill="#b01f30"/>
<line x1="772.00" y1="73.66" x2="772.00" y2="79.70" stroke="#b01f30" stroke-width="0.8" stroke-opacity="0.8"/>
<rect x="770.10" y="75.92" width="3.8" height="1.51" fill="#b01f30"/>
<rect x="774.80" y="75.92" width="3.8" height="4.53" fill="#b01f30"/>
<line x1="781.40" y1="78.94" x2="781.40" y2="83.92" stroke="#0e5c18" stroke-width="0.8" stroke-opacity="0.8"/>
<rect x="779.50" y="78.94" width="3.8" height="2.26" fill="#0e5c18"/>
<line x1="786.10" y1="75.92" x2="786.10" y2="84.22" stroke="#b01f30" stroke-width="0.8" stroke-opacity="0.8"/>
<rect x="784.20" y="80.90" width="3.8" height="3.32" fill="#b01f30"/>
<rect x="788.90" y="75.17" width="3.8" height="9.81" fill="#0e5c18"/>
<line x1="795.50" y1="72.91" x2="795.50" y2="78.49" stroke="#0e5c18" stroke-width="0.8" stroke-opacity="0.8"/>
<rect x="793.60" y="72.91" width="3.8" height="3.02" fill="#0e5c18"/>
<line x1="800.20" y1="67.33" x2="800.20" y2="72.91" stroke="#0e5c18" stroke-width="0.8" stroke-opacity="0.8"/>
<rect x="798.30" y="69.89" width="3.8" height="3.02" fill="#0e5c18"/>
<line x1="804.90" y1="68.38" x2="804.90" y2="72.91" stroke="#0e5c18" stroke-width="0.8" stroke-opacity="0.8"/>
<rect x="803.00" y="68.38" width="3.8" height="1.51" fill="#0e5c18"/>
<line x1="809.60" y1="63.10" x2="809.60" y2="70.95" stroke="#0e5c18" stroke-width="0.8" stroke-opacity="0.8"/>
<rect x="807.70" y="67.93" width="3.8" height="1.51" fill="#0e5c18"/>
<rect x="812.40" y="63.10" width="3.8" height="4.83" fill="#0e5c18"/>
<rect x="817.10" y="62.05" width="3.8" height="7.39" fill="#b01f30"/>
<rect x="821.80" y="63.40" width="3.8" height="9.50" fill="#0e5c18"/>
<line x1="828.40" y1="57.36" x2="828.40" y2="63.40" stroke="#0e5c18" stroke-width="0.8" stroke-opacity="0.8"/>
<rect x="826.50" y="58.87" width="3.8" height="4.53" fill="#0e5c18"/>
<line x1="833.10" y1="55.85" x2="833.10" y2="69.89" stroke="#b01f30" stroke-width="0.8" stroke-opacity="0.8"/>
<rect x="831.20" y="58.42" width="3.8" height="11.47" fill="#b01f30"/>
<line x1="837.80" y1="65.66" x2="837.80" y2="80.75" stroke="#b01f30" stroke-width="0.8" stroke-opacity="0.8"/>
<rect x="835.90" y="68.98" width="3.8" height="11.77" fill="#b01f30"/>
<line x1="842.50" y1="80.75" x2="842.50" y2="88.00" stroke="#b01f30" stroke-width="0.8" stroke-opacity="0.8"/>
<rect x="840.60" y="80.75" width="3.8" height="5.28" fill="#b01f30"/>
<line x1="847.20" y1="81.06" x2="847.20" y2="91.32" stroke="#0e5c18" stroke-width="0.8" stroke-opacity="0.8"/>
<rect x="845.30" y="81.06" width="3.8" height="4.98" fill="#0e5c18"/>
<line x1="851.90" y1="78.04" x2="851.90" y2="89.51" stroke="#b01f30" stroke-width="0.8" stroke-opacity="0.8"/>
<rect x="850.00" y="80.45" width="3.8" height="9.06" fill="#b01f30"/>
<line x1="856.60" y1="88.30" x2="856.60" y2="95.55" stroke="#0e5c18" stroke-width="0.8" stroke-opacity="0.8"/>
<rect x="854.70" y="88.30" width="3.8" height="2.72" fill="#0e5c18"/>
<line x1="861.30" y1="84.53" x2="861.30" y2="95.09" stroke="#b01f30" stroke-width="0.8" stroke-opacity="0.8"/>
<rect x="859.40" y="90.57" width="3.8" height="1.21" fill="#b01f30"/>
<line x1="866.00" y1="84.23" x2="866.00" y2="94.64" stroke="#0e5c18" stroke-width="0.8" stroke-opacity="0.8"/>
<rect x="864.10" y="84.23" width="3.8" height="7.09" fill="#0e5c18"/>
<line x1="870.70" y1="79.25" x2="870.70" y2="89.51" stroke="#b01f30" stroke-width="0.8" stroke-opacity="0.8"/>
<rect x="868.80" y="86.49" width="3.8" height="1.51" fill="#b01f30"/>
<line x1="875.40" y1="69.43" x2="875.40" y2="88.30" stroke="#0e5c18" stroke-width="0.8" stroke-opacity="0.8"/>
<rect x="873.50" y="69.43" width="3.8" height="16.30" fill="#0e5c18"/>
<line x1="880.10" y1="61.43" x2="880.10" y2="70.94" stroke="#0e5c18" stroke-width="0.8" stroke-opacity="0.8"/>
<rect x="878.20" y="65.36" width="3.8" height="3.32" fill="#0e5c18"/>
<line x1="884.80" y1="60.38" x2="884.80" y2="65.36" stroke="#0e5c18" stroke-width="0.8" stroke-opacity="0.8"/>
<rect x="882.90" y="61.89" width="3.8" height="3.47" fill="#0e5c18"/>
<line x1="889.50" y1="62.34" x2="889.50" y2="68.68" stroke="#b01f30" stroke-width="0.8" stroke-opacity="0.8"/>
<rect x="887.60" y="62.34" width="3.8" height="3.62" fill="#b01f30"/>
<line x1="894.20" y1="66.87" x2="894.20" y2="73.96" stroke="#b01f30" stroke-width="0.8" stroke-opacity="0.8"/>
<rect x="892.30" y="66.87" width="3.8" height="4.53" fill="#b01f30"/>
<line x1="898.90" y1="68.98" x2="898.90" y2="79.25" stroke="#b01f30" stroke-width="0.8" stroke-opacity="0.8"/>
<rect x="897.00" y="68.98" width="3.8" height="7.25" fill="#b01f30"/>
<line x1="903.60" y1="71.40" x2="903.60" y2="80.75" stroke="#b01f30" stroke-width="0.8" stroke-opacity="0.8"/>
<rect x="901.70" y="74.42" width="3.8" height="3.62" fill="#b01f30"/>
<line x1="908.30" y1="74.42" x2="908.30" y2="77.74" stroke="#0e5c18" stroke-width="0.8" stroke-opacity="0.8"/>
<rect x="906.40" y="74.42" width="3.8" height="1.81" fill="#0e5c18"/>
<rect x="911.10" y="75.17" width="3.8" height="2.57" fill="#b01f30"/>
<line x1="917.70" y1="78.49" x2="917.70" y2="81.51" stroke="#b01f30" stroke-width="0.8" stroke-opacity="0.8"/>
<rect x="915.80" y="79.55" width="3.8" height="1.21" fill="#b01f30"/>
<rect x="920.50" y="80.00" width="3.8" height="5.28" fill="#b01f30"/>
<rect x="925.20" y="80.00" width="3.8" height="4.98" fill="#0e5c18"/>
<polyline points="17.6,324.4 20.0,319.5 24.7,316.8 29.4,314.1 34.1,321.2 38.8,320.9 43.5,316.3 48.2,318.8 52.9,325.6 57.6,326.8 62.3,333.3 67.0,331.9 71.7,324.6 76.4,320.0 81.1,315.4 85.8,320.5 90.5,316.3 95.2,314.9 99.9,316.6 104.6,315.4 109.3,308.6 114.0,301.8 118.7,305.2 123.4,304.7 128.1,301.8 132.8,301.7 137.5,299.3 142.2,296.6 146.9,312.4 151.6,315.4 156.3,311.9 161.0,311.0 165.7,310.3 170.4,311.8 175.1,323.7 179.8,323.7 184.5,318.5 189.2,330.5 193.9,327.8 198.6,330.9 203.3,343.6 208.0,352.6 212.7,350.4 217.4,359.4 222.1,354.3 226.8,349.2 231.5,345.6 236.2,344.4 240.9,343.6 245.6,342.7 250.3,340.7 255.0,333.9 259.7,336.5 264.4,336.0 269.1,343.3 273.8,350.1 278.5,349.2 283.2,336.5 287.9,333.1 292.6,327.5 297.3,325.8 302.0,314.7 306.7,306.2 311.4,316.4 316.1,309.3 320.8,302.0 325.5,316.9 330.2,325.4 334.9,321.5 339.6,316.8 344.3,322.7 349.0,318.6 353.7,320.3 358.4,334.3 363.1,329.5 367.8,328.3 372.5,331.2 377.2,338.0 381.9,336.0 386.6,334.8 391.3,335.1 396.0,328.8 400.7,321.5 405.4,317.6 410.1,310.8 414.8,318.6 419.5,326.6 424.2,335.6 428.9,336.8 433.6,335.3 438.3,307.4 443.0,313.5 447.7,307.1 452.4,307.9 457.1,307.4 461.8,308.8 466.5,305.4 471.2,302.5 475.9,299.9 480.6,295.2 485.3,292.6 490.0,305.0 494.7,303.7 499.4,299.9 504.1,302.0 508.8,299.9 513.5,297.7 518.2,307.1 522.9,303.7 527.6,298.6 532.3,301.6 537.0,301.5 541.7,298.1 546.4,310.5 551.1,307.1 555.8,313.0 560.5,314.4 565.2,310.8 569.9,303.7 574.6,302.3 579.3,300.8 584.0,298.1 588.7,307.9 593.4,305.9 598.1,316.4 602.8,313.9 607.5,319.3 612.2,330.5 616.9,330.0 621.6,324.4 626.3,322.0 631.0,314.7 635.7,317.6 640.4,316.9 645.1,320.3 649.8,315.2 654.5,310.5 659.2,314.7 663.9,311.7 668.6,319.8 673.3,314.7 678.0,316.9 682.7,305.4 687.4,303.2 692.1,298.2 696.8,302.0 701.5,300.8 706.2,304.9 710.9,302.0 715.6,302.0 720.3,302.5 725.0,303.3 729.7,302.8 734.4,310.0 739.1,304.9 743.8,304.2 748.5,300.6 753.2,315.2 757.9,318.6 762.6,318.1 767.3,319.0 772.0,323.2 776.7,328.3 781.4,326.6 786.1,337.3 790.8,321.5 795.5,319.0 800.2,315.9 804.9,315.2 809.6,314.2 814.3,307.6 819.0,320.7 823.7,314.7 828.4,308.8 833.1,327.8 837.8,341.9 842.5,347.8 847.2,340.7 851.9,349.5 856.6,347.8 861.3,349.5 866.0,340.7 870.7,344.4 875.4,325.4 880.1,324.4 884.8,319.0 889.5,324.4 894.2,330.0 898.9,335.1 903.6,337.7 908.3,334.3 913.0,337.7 917.7,340.2 922.4,345.3 927.1,338.2" fill="none" stroke="#0a0a0a" stroke-width="1.7" stroke-linejoin="round" stroke-linecap="round"/>
<rect x="1013.2" y="18" width="63.5" height="27.2" fill="#ffffff"/>
<text x="24.7" y="34.0" font-size="10.5" fill="#161616" font-weight="normal" font-style="normal" stroke="#161616" stroke-width="0.4" textLength="91.5" lengthAdjust="spacingAndGlyphs">SECURE ENRGY SER</text>
<text x="123.8" y="34.0" font-size="10.5" fill="#161616" font-weight="normal" font-style="normal" stroke="#161616" stroke-width="0.4" textLength="6.2" lengthAdjust="spacingAndGlyphs">O</text>
<text x="130.5" y="34.0" font-size="10.5" fill="#2e7d32" font-weight="normal" font-style="normal" stroke="#2e7d32" stroke-width="0.4" textLength="43.4" lengthAdjust="spacingAndGlyphs">11.12000</text>
<text x="181.1" y="34.0" font-size="10.5" fill="#161616" font-weight="normal" font-style="normal" stroke="#161616" stroke-width="0.4" textLength="5.9" lengthAdjust="spacingAndGlyphs">H</text>
<text x="187.5" y="34.0" font-size="10.5" fill="#2e7d32" font-weight="normal" font-style="normal" stroke="#2e7d32" stroke-width="0.4" textLength="42.3" lengthAdjust="spacingAndGlyphs">11.33000</text>
<text x="237.7" y="34.0" font-size="10.5" fill="#161616" font-weight="normal" font-style="normal" stroke="#161616" stroke-width="0.4" textLength="4.3" lengthAdjust="spacingAndGlyphs">L</text>
<text x="242.5" y="34.0" font-size="10.5" fill="#2e7d32" font-weight="normal" font-style="normal" stroke="#2e7d32" stroke-width="0.4" textLength="43.0" lengthAdjust="spacingAndGlyphs">11.12000</text>
<text x="293.2" y="34.0" font-size="10.5" fill="#161616" font-weight="normal" font-style="normal" stroke="#161616" stroke-width="0.4" textLength="5.9" lengthAdjust="spacingAndGlyphs">C</text>
<text x="299.5" y="34.0" font-size="10.5" fill="#2e7d32" font-weight="normal" font-style="normal" stroke="#2e7d32" stroke-width="0.4" textLength="42.8" lengthAdjust="spacingAndGlyphs">11.27000</text>
<text x="350.2" y="34.0" font-size="10.5" fill="#2e7d32" font-weight="normal" font-style="normal" stroke="#2e7d32" stroke-width="0.4" textLength="86.0" lengthAdjust="spacingAndGlyphs">+0.15000 (+1.35%)</text>
<text x="452.1" y="34.0" font-size="10.5" fill="#161616" font-weight="normal" font-style="normal" stroke="#161616" stroke-width="0.4" textLength="119.5" lengthAdjust="spacingAndGlyphs">MA (21, close, 0, SMA, 9)</text>
<text x="579.3" y="34.0" font-size="10.5" fill="#2e7d32" font-weight="normal" font-style="normal" stroke="#2e7d32" stroke-width="0.4" textLength="42.4" lengthAdjust="spacingAndGlyphs">11.31238</text>
<text x="637.6" y="34.0" font-size="10.5" fill="#161616" font-weight="normal" font-style="normal" stroke="#161616" stroke-width="0.4" textLength="119.5" lengthAdjust="spacingAndGlyphs">MA (50, close, 0, SMA, 9)</text>
<text x="764.4" y="34.0" font-size="10.5" fill="#c23b47" font-weight="normal" font-style="normal" stroke="#c23b47" stroke-width="0.4" textLength="42.5" lengthAdjust="spacingAndGlyphs">11.39700</text>
<text x="24.3" y="295.4" font-size="10.5" fill="#161616" font-weight="normal" font-style="normal" stroke="#161616" stroke-width="0.4" textLength="125.7" lengthAdjust="spacingAndGlyphs">RSI (14, Wilder, Simple, 9)</text>
<text x="157.3" y="295.4" font-size="10.5" fill="#161616" font-weight="normal" font-style="normal" stroke="#161616" stroke-width="0.4" textLength="37.3" lengthAdjust="spacingAndGlyphs">47.8474</text>
<text x="24.5" y="390.1" font-size="10.5" fill="#161616" font-weight="normal" font-style="normal" stroke="#161616" stroke-width="0.4" textLength="78.0" lengthAdjust="spacingAndGlyphs">Volume (SMA, 9)</text>
<text x="109.3" y="390.1" font-size="10.5" fill="#4b3fae" font-weight="normal" font-style="normal" stroke="#4b3fae" stroke-width="0.4" textLength="43.2" lengthAdjust="spacingAndGlyphs">664.408K</text>
<text x="104.3" y="461.6" font-size="10.5" fill="#161616" font-weight="normal" font-style="normal" stroke="#161616" stroke-width="0.4" textLength="18.6" lengthAdjust="spacingAndGlyphs">Sep</text>
<text x="198.6" y="461.6" font-size="10.5" fill="#161616" font-weight="normal" font-style="normal" stroke="#161616" stroke-width="0.4" textLength="18.2" lengthAdjust="spacingAndGlyphs">Oct</text>
<text x="297.3" y="461.6" font-size="10.5" fill="#161616" font-weight="normal" font-style="normal" stroke="#161616" stroke-width="0.4" textLength="18.7" lengthAdjust="spacingAndGlyphs">Nov</text>
<text x="401.0" y="461.6" font-size="10.5" fill="#161616" font-weight="normal" font-style="normal" stroke="#161616" stroke-width="0.4" textLength="18.6" lengthAdjust="spacingAndGlyphs">Dec</text>
<text x="593.6" y="461.6" font-size="10.5" fill="#161616" font-weight="normal" font-style="normal" stroke="#161616" stroke-width="0.4" textLength="18.4" lengthAdjust="spacingAndGlyphs">Feb</text>
<text x="687.1" y="461.6" font-size="10.5" fill="#161616" font-weight="normal" font-style="normal" stroke="#161616" stroke-width="0.4" textLength="18.4" lengthAdjust="spacingAndGlyphs">Mar</text>
<text x="781.9" y="461.6" font-size="10.5" fill="#161616" font-weight="normal" font-style="normal" stroke="#161616" stroke-width="0.4" textLength="18.1" lengthAdjust="spacingAndGlyphs">Apr</text>
<text x="883.9" y="461.6" font-size="10.5" fill="#161616" font-weight="normal" font-style="normal" stroke="#161616" stroke-width="0.4" textLength="20.4" lengthAdjust="spacingAndGlyphs">May</text>
<text x="988.5" y="461.6" font-size="10.5" fill="#161616" font-weight="normal" font-style="normal" stroke="#161616" stroke-width="0.4" textLength="18.1" lengthAdjust="spacingAndGlyphs">Jun</text>
<text x="486.5" y="461.6" font-size="10.5" fill="#111111" font-weight="bold" font-style="normal" stroke="#111111" stroke-width="0.15" textLength="25.9" lengthAdjust="spacingAndGlyphs">2024</text>
<g>
<text x="1021.0" y="93.6" font-size="11.5" fill="#333" font-weight="normal" font-style="normal" stroke="#333" stroke-width="0.4" textLength="45.6" lengthAdjust="spacingAndGlyphs">11.00000</text>
<text x="1021.0" y="129.4" font-size="11.5" fill="#333" font-weight="normal" font-style="normal" stroke="#333" stroke-width="0.4" textLength="45.6" lengthAdjust="spacingAndGlyphs">10.00000</text>
<text x="1020.1" y="165.6" font-size="11.5" fill="#333" font-weight="normal" font-style="normal" stroke="#333" stroke-width="0.4" textLength="40.7" lengthAdjust="spacingAndGlyphs">9.00000</text>
<text x="1020.1" y="201.0" font-size="11.5" fill="#333" font-weight="normal" font-style="normal" stroke="#333" stroke-width="0.4" textLength="40.7" lengthAdjust="spacingAndGlyphs">8.00000</text>
<text x="1020.1" y="236.8" font-size="11.5" fill="#333" font-weight="normal" font-style="normal" stroke="#333" stroke-width="0.4" textLength="40.7" lengthAdjust="spacingAndGlyphs">7.00000</text>
<text x="1020.1" y="272.9" font-size="11.5" fill="#333" font-weight="normal" font-style="normal" stroke="#333" stroke-width="0.4" textLength="40.7" lengthAdjust="spacingAndGlyphs">6.00000</text>
<text x="1020.1" y="296.4" font-size="11.5" fill="#333" font-weight="normal" font-style="normal" stroke="#333" stroke-width="0.4" textLength="40.7" lengthAdjust="spacingAndGlyphs">80.0000</text>
<text x="1020.1" y="325.9" font-size="11.5" fill="#333" font-weight="normal" font-style="normal" stroke="#333" stroke-width="0.4" textLength="40.7" lengthAdjust="spacingAndGlyphs">60.0000</text>
<text x="1020.1" y="354.5" font-size="11.5" fill="#333" font-weight="normal" font-style="normal" stroke="#333" stroke-width="0.4" textLength="40.7" lengthAdjust="spacingAndGlyphs">40.0000</text>
<text x="1020.1" y="388.4" font-size="11.5" fill="#333" font-weight="normal" font-style="normal" stroke="#333" stroke-width="0.4" textLength="14.1" lengthAdjust="spacingAndGlyphs">4M</text>
<text x="1020.1" y="418.0" font-size="11.5" fill="#333" font-weight="normal" font-style="normal" stroke="#333" stroke-width="0.4" textLength="14.1" lengthAdjust="spacingAndGlyphs">2M</text>
</g>
<rect x="1012.6" y="45.4" width="59.4" height="9.8" fill="#b22833"/>
<path d="M1012.6 55h59.4v15.6a1.5 1.5 0 0 1 -1.2 1.4a1.5 1.5 0 0 1 1.2 1.4v13.5a2 2 0 0 1 -2 2h-57.4z" fill="#1b5e20"/>
<svg x="1012.6" y="45.4" width="60" height="9.6" overflow="hidden">
<text x="8.4" y="5.7" font-size="11.9" fill="#fff" font-weight="bold" textLength="45.6" lengthAdjust="spacingAndGlyphs">11.39700</text>
</svg>
<text x="1021.0" y="67.9" font-size="11.9" fill="#ffffff" font-weight="bold" font-style="normal" stroke="#ffffff" stroke-width="0.15" textLength="45.6" lengthAdjust="spacingAndGlyphs">11.31238</text>
<text x="1021.0" y="84.4" font-size="11.9" fill="#ffffff" font-weight="bold" font-style="normal" stroke="#ffffff" stroke-width="0.15" textLength="45.6" lengthAdjust="spacingAndGlyphs">11.27000</text>
<path d="M1012.6 330.2h51.7a2.2 2.2 0 0 1 2.2 2.2v12.7a2.2 2.2 0 0 1 -2.2 2.2h-51.7z" fill="#000000"/>
<text x="1020.1" y="343.5" font-size="11.9" fill="#ffffff" font-weight="bold" font-style="normal" stroke="#ffffff" stroke-width="0.15" textLength="40.7" lengthAdjust="spacingAndGlyphs">47.8474</text>
<path d="M1012.6 425.8h58.2a2.2 2.2 0 0 1 2.2 2.2v12.0a2.2 2.2 0 0 1 -2.2 2.2h-58.2z" fill="#2d1898"/>
<text x="1020.1" y="438.4" font-size="11.9" fill="#ffffff" font-weight="bold" font-style="normal" stroke="#ffffff" stroke-width="0.15" textLength="47.8" lengthAdjust="spacingAndGlyphs">664.408K</text>
<rect x="1015.5" y="20.7" width="57.8" height="21.4" rx="3.5" fill="#ffffff" stroke="#e6e8ef" stroke-width="1"/>
<text x="1023.6" y="36.7" font-size="11.8" fill="#363a45" font-weight="normal" font-style="normal" stroke="#363a45" stroke-width="0.4" textLength="20.7" lengthAdjust="spacingAndGlyphs">CAD</text>
<text x="1044.2" y="492.0" font-size="12.2" fill="#ffffff" font-weight="bold" font-style="normal" stroke="#ffffff" stroke-width="0.15" textLength="32.7" lengthAdjust="spacingAndGlyphs">LSEG</text>
<g transform="translate(1015,479.6)" fill="#ffffff" stroke="none">
<path d="M8.4 2.6h7.1v6.2c0 2.6-1.6 3.9-3.55 4.6-1.95-.7-3.55-2-3.55-4.6z"/>
<path d="M11.95 4.2c.6 0 .9.5.8 1.1l1 3.7h-3.6l1-3.7c-.1-.6.2-1.1.8-1.100z" fill="#1e222d" fill-opacity=".78"/>
<g stroke="#ffffff" stroke-width="1.8" fill="none" stroke-linecap="round" stroke-linejoin="round">
<path d="M0.9 0.9L2.2 4.3 3.5 7M5.6 0.7L4.7 4 3.5 7M3.5 6.6L3.1 12.2M3.7 8L5.9 11.6M0.4 7.6L2.8 6.3M4.4 6.6L7.2 5.4"/><path d="M3.6 1.4L3.9 3.4" stroke-width="1"/>
<g transform="translate(23.9,0) scale(-1,1)"><path d="M0.9 0.9L2.2 4.3 3.5 7M5.6 0.7L4.7 4 3.5 7M3.5 6.6L3.1 12.2M3.7 8L5.9 11.6M0.4 7.6L2.8 6.3M4.4 6.6L7.2 5.4"/><path d="M3.6 1.4L3.9 3.4" stroke-width="1"/></g>
</g>
<rect x="1.8" y="13.1" width="20.6" height="1.5" rx=".7" fill-opacity=".6"/>
</g>
<text x="9.3" y="519.3" font-size="15.4" fill="#000000" font-weight="bold" font-style="italic" stroke="#000000" stroke-width="0.15" textLength="135.9" lengthAdjust="spacingAndGlyphs">Source: REFINITIV</text>
</g>
</svg>
</body></html>
